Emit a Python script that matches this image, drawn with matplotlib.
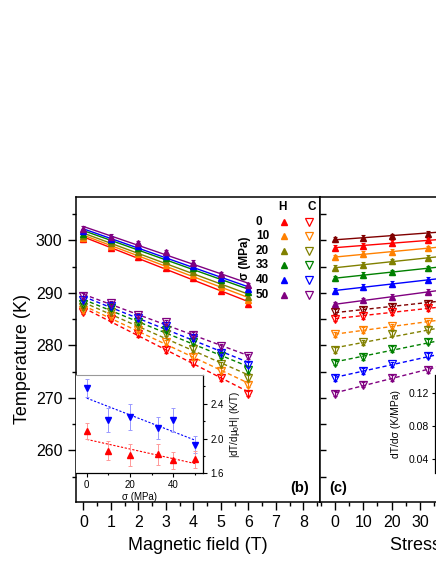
import numpy as np
import matplotlib
matplotlib.use("Agg")
import matplotlib.pyplot as plt
from matplotlib.ticker import MultipleLocator

plt.rcParams["font.family"] = ["Liberation Sans", "DejaVu Sans"]
plt.rcParams["mathtext.fontset"] = "custom"
plt.rcParams["mathtext.rm"] = "Liberation Sans"
plt.rcParams["mathtext.it"] = "Liberation Sans:italic"
plt.rcParams["mathtext.default"] = "regular"

# magnetic field (T) and applied stress (MPa)
field = [0, 1, 2, 3, 4, 5, 6]
sigma = [0, 10, 20, 33, 40, 50]

# transition temperature on heating, one row per stress, columns = field
heat_s0 = [300.2, 298.6, 296.8, 294.8, 292.8, 290.4, 287.8]
heat_s10 = [300.5, 299.0, 297.4, 295.3, 293.4, 291.1, 288.6]
heat_s20 = [300.8, 299.5, 297.8, 296.0, 293.9, 291.7, 289.2]
heat_s33 = [301.3, 300.0, 298.5, 296.7, 294.7, 292.5, 290.2]
heat_s40 = [301.7, 300.3, 298.9, 297.0, 295.1, 292.9, 290.7]
heat_s50 = [302.2, 300.7, 299.4, 297.7, 295.7, 293.5, 291.4]

# transition temperature on cooling
cool_s0 = [286.4, 285.1, 282.1, 279.1, 276.7, 273.8, 270.8]
cool_s10 = [286.8, 285.6, 282.9, 280.6, 277.8, 275.1, 272.5]
cool_s20 = [287.3, 286.3, 283.6, 282.2, 279.3, 276.4, 273.8]
cool_s33 = [287.9, 287.1, 284.4, 283.0, 280.7, 278.0, 275.3]
cool_s40 = [288.6, 287.5, 285.2, 283.6, 281.4, 278.6, 276.3]
cool_s50 = [289.4, 288.0, 285.7, 284.4, 282.0, 279.8, 277.9]

T_heat = np.array([heat_s0, heat_s10, heat_s20, heat_s33, heat_s40, heat_s50])
T_cool = np.array([cool_s0, cool_s10, cool_s20, cool_s33, cool_s40, cool_s50])
T_err = 0.5

# inset (b): |dT/dmu0H| vs stress
slope_heat = [2.09, 1.86, 1.81, 1.82, 1.75, 1.76]
slope_heat_err = [0.09, 0.11, 0.13, 0.12, 0.10, 0.10]
slope_cool = [2.58, 2.215, 2.25, 2.12, 2.21, 1.93]
slope_cool_err = [0.10, 0.14, 0.15, 0.13, 0.14, 0.10]

sigma_colors = ["#ff0000", "#ff8000", "#808000", "#008000", "#0000ff", "#800080"]
field_colors = ["#800000"] + sigma_colors

W, H = 436, 564
fig = plt.figure(figsize=(W / 100, H / 100), dpi=100)


def box(x0, y0, x1, y1):
    # pixel box -> figure fraction
    return [x0 / W, 1 - y1 / H, (x1 - x0) / W, (y1 - y0) / H]


def style(a, lw=1.1):
    for sp in a.spines.values():
        sp.set_linewidth(lw)


ax = fig.add_axes(box(75.7, 197.3, 320, 502.3))
axc = fig.add_axes(box(320, 197.3, 564.3, 502.3))

ylim = (250.1, 308.2)

# ---- panel (b): T vs field
for i, s in enumerate(sigma):
    c = sigma_colors[i]
    ax.errorbar(field, T_heat[i], yerr=T_err, fmt="^", color=c, ms=5,
                capsize=1.5, elinewidth=0.8, capthick=0.8, zorder=3)
    ax.errorbar(field, T_cool[i], yerr=T_err, fmt="v", color=c, mfc="none",
                mec=c, mew=0.9, ms=5.5, capsize=1.5, elinewidth=0.8,
                capthick=0.8, zorder=3)
    xx = np.array([0, 6])
    ax.plot(xx, np.polyval(np.polyfit(field, T_heat[i], 1), xx), "-", color=c, lw=1)
    ax.plot(xx, np.polyval(np.polyfit(field, T_cool[i], 1), xx), color=c, lw=1,
            ls=(0, (3, 2)))

ax.set_xlim(-0.28, 8.6)
ax.set_ylim(*ylim)
ax.xaxis.set_major_locator(MultipleLocator(1))
ax.xaxis.set_minor_locator(MultipleLocator(0.5))
ax.yaxis.set_major_locator(MultipleLocator(10))
ax.yaxis.set_minor_locator(MultipleLocator(5))
ax.tick_params(which="major", direction="out", length=6, width=1, labelsize=11.5)
ax.tick_params(which="minor", direction="out", length=3, width=1)
ax.set_xlabel("Magnetic field (T)", fontsize=13, labelpad=5)
ax.set_ylabel("Temperature (K)", fontsize=13)
ax.yaxis.set_label_coords(-0.185, 0.47)
style(ax)
ax.text(0.918, 0.046, "(b)", transform=ax.transAxes, fontsize=10.5,
        fontweight="bold", ha="center", va="center")

# legend block
ax.text(0.847, 0.969, "H", transform=ax.transAxes, fontsize=8.5,
        fontweight="bold", ha="center", va="center")
ax.text(0.966, 0.969, "C", transform=ax.transAxes, fontsize=8.5,
        fontweight="bold", ha="center", va="center")
leg_y = [0.920, 0.873, 0.825, 0.778, 0.729, 0.681]
for i, s in enumerate(sigma):
    c = sigma_colors[i]
    ax.text(0.738, leg_y[i], str(s), transform=ax.transAxes, fontsize=8.5,
            fontweight="bold", ha="left", va="center")
    ax.plot([0.853], [leg_y[i]], "^", color=c, ms=5, transform=ax.transAxes,
            clip_on=False)
    ax.plot([0.956], [leg_y[i]], "v", mfc="none", mec=c, mew=0.9, ms=5.5,
            transform=ax.transAxes, clip_on=False)
ax.text(0.693, 0.80, "σ (MPa)", transform=ax.transAxes, fontsize=8.5,
        fontweight="bold", rotation=90, ha="center", va="center")

# ---- panel (c): T vs stress
for j, h in enumerate(field):
    c = field_colors[j]
    axc.errorbar(sigma, T_heat[:, j], yerr=T_err, fmt="^", color=c, ms=5,
                 capsize=1.5, elinewidth=0.8, capthick=0.8, zorder=3)
    axc.errorbar(sigma, T_cool[:, j], yerr=T_err, fmt="v", color=c, mfc="none",
                 mec=c, mew=0.9, ms=5.5, capsize=1.5, elinewidth=0.8,
                 capthick=0.8, zorder=3)
    xx = np.array([0, 50])
    axc.plot(xx, np.polyval(np.polyfit(sigma, T_heat[:, j], 1), xx), "-", color=c, lw=1)
    axc.plot(xx, np.polyval(np.polyfit(sigma, T_cool[:, j], 1), xx), color=c,
             lw=1, ls=(0, (3, 2)))

axc.set_xlim(-5.3, 81)
axc.set_ylim(*ylim)
axc.xaxis.set_major_locator(MultipleLocator(10))
axc.xaxis.set_minor_locator(MultipleLocator(5))
axc.yaxis.set_major_locator(MultipleLocator(10))
axc.yaxis.set_minor_locator(MultipleLocator(5))
axc.tick_params(axis="x", which="major", direction="out", length=6, width=1,
                labelsize=11.5)
axc.tick_params(axis="x", which="minor", direction="out", length=3, width=1)
axc.tick_params(axis="y", which="both", direction="in", length=4, width=1,
                labelleft=False)
axc.set_xlabel("Stress (MPa)", fontsize=13, labelpad=5)
style(axc)
axc.text(0.074, 0.046, "(c)", transform=axc.transAxes, fontsize=10.5,
         fontweight="bold", ha="center", va="center")

# ---- inset (b)
axi = fig.add_axes(box(75.7, 375, 203.3, 473.3))
axi.errorbar(sigma, slope_cool, yerr=slope_cool_err, fmt="v", color="#0000ff",
             ms=4.5, ecolor="#9999ff", elinewidth=0.7, capsize=1.5,
             capthick=0.7, zorder=3)
axi.errorbar(sigma, slope_heat, yerr=slope_heat_err, fmt="^", color="#ff0000",
             ms=4.5, ecolor="#ff9999", elinewidth=0.7, capsize=1.5,
             capthick=0.7, zorder=3)
xx = np.array([0, 50])
axi.plot(xx, np.polyval(np.polyfit(sigma, slope_cool, 1), xx), color="#0000ff",
         lw=0.8, ls=(0, (2, 1.5)))
axi.plot(xx, np.polyval(np.polyfit(sigma, slope_heat, 1), xx), color="#ff0000",
         lw=0.8, ls=(0, (2, 1.5)))
axi.set_xlim(-5.1, 53.8)
axi.set_ylim(1.6, 2.73)
axi.xaxis.set_major_locator(MultipleLocator(20))
axi.xaxis.set_minor_locator(MultipleLocator(10))
axi.yaxis.set_major_locator(MultipleLocator(0.4))
axi.yaxis.set_minor_locator(MultipleLocator(0.2))
axi.yaxis.tick_right()
axi.yaxis.set_label_position("right")
axi.tick_params(which="major", direction="out", length=3, width=0.8, labelsize=7, pad=2)
axi.tick_params(which="minor", direction="out", length=1.5, width=0.8)
axi.spines["left"].set_visible(False)
axi.spines["top"].set_color("#999999")
axi.spines["top"].set_linewidth(0.8)
axi.spines["right"].set_linewidth(0.9)
axi.spines["bottom"].set_linewidth(0.9)
axi.set_xlabel("σ (MPa)", fontsize=7, labelpad=1)
axi.set_ylabel("|dT/dμ$_0$H| (K/T)", fontsize=7, labelpad=3)

# ---- inset (c), mostly outside the cropped view
axci = fig.add_axes(box(434.8, 375, 600, 473.3))
axci.set_ylim(0.0232, 0.1412)
axci.yaxis.set_major_locator(MultipleLocator(0.04))
axci.set_xticks([])
axci.tick_params(axis="y", direction="out", length=2.5, width=0.8, labelsize=7.5, pad=1.5)
for k in ("top", "right", "bottom"):
    axci.spines[k].set_visible(False)
axci.spines["left"].set_linewidth(0.9)
axci.set_ylabel("dT/dσ (K/MPa)", fontsize=7.5, labelpad=6)

fig.savefig("out.png", dpi=100)
